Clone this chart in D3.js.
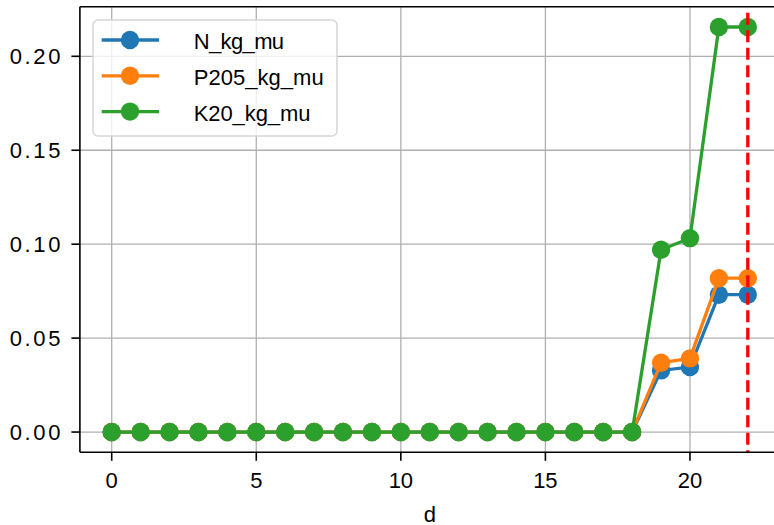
<!DOCTYPE html>
<html><head><meta charset="utf-8">
<script src="https://cdn.jsdelivr.net/npm/d3@7"></script>
<style>body{margin:0;background:#fff}svg{display:block}</style>
</head><body>
<svg id="c" width="774" height="525"></svg>
<script>
const days = d3.range(0, 23);
const seriesNames = ["N_kg_mu", "P205_kg_mu", "K20_kg_mu"];
const N_kg_mu =    [0,0,0,0,0,0,0,0,0,0,0,0,0,0,0,0,0,0,0,0.0328,0.0346,0.0731,0.0731];
const P205_kg_mu = [0,0,0,0,0,0,0,0,0,0,0,0,0,0,0,0,0,0,0,0.0369,0.0392,0.0819,0.0819];
const K20_kg_mu =  [0,0,0,0,0,0,0,0,0,0,0,0,0,0,0,0,0,0,0,0.0970,0.1032,0.2156,0.2156];
const xTicks = [0,5,10,15,20];
const yTicks = [0,0.05,0.10,0.15,0.20];
const xLabel = "d";
const vlineX = 22;
const colors = ["#1f77b4","#ff7f0e","#2ca02c"];
const data = [N_kg_mu, P205_kg_mu, K20_kg_mu];

const font = "'Liberation Sans', Arial, sans-serif";
const FS = 22, CW = 13.2;
// text stretched to half-width cell metrics (like a CJK font's Latin glyphs)
function mono(parent, str, x0, y, anchor) {
  const w = str.length * CW;
  const start = anchor === "end" ? x0 - w : anchor === "middle" ? x0 - w/2 : x0;
  const t = parent.append("text").attr("x", start + (str.length > 1 ? 1 : 0)).attr("y", y)
    .attr("font-family", font).attr("font-size", FS).attr("fill", "#000").text(str);
  if (str.length > 1) t.attr("textLength", w - 2).attr("lengthAdjust", "spacing");
  else t.attr("x", x0).attr("text-anchor", "middle");
  return t;
}

const svg = d3.select("#c");
const L = 79.9, T = 6.7, B = 452.3;
const x = d3.scaleLinear().domain([-1.1, 23.1]).range([79.9, 779.6]);
const y = d3.scaleLinear().domain([-0.01078, 0.2264]).range([B, T]);
const R = x.range()[1];

const g = svg.append("g");
// grid
g.selectAll(".gx").data(xTicks).enter().append("line")
  .attr("x1", d=>x(d)).attr("x2", d=>x(d)).attr("y1", T).attr("y2", B)
  .attr("stroke", "#b0b0b0").attr("stroke-width", 1.3);
g.selectAll(".gy").data(yTicks).enter().append("line")
  .attr("x1", L).attr("x2", R).attr("y1", d=>y(d)).attr("y2", d=>y(d))
  .attr("stroke", "#b0b0b0").attr("stroke-width", 1.3);

// series
const line = d3.line().x((d,i)=>x(days[i])).y(d=>y(d));
data.forEach((s, k) => {
  g.append("path").datum(s).attr("d", line).attr("fill","none")
    .attr("stroke", colors[k]).attr("stroke-width", 3.3);
  g.selectAll(".m"+k).data(s).enter().append("circle")
    .attr("cx", (d,i)=>x(days[i])).attr("cy", d=>y(d)).attr("r", 9.2)
    .attr("fill", colors[k]);
});

// red dashed vline
g.append("line").attr("x1", x(vlineX)).attr("x2", x(vlineX)).attr("y1", T + 6).attr("y2", B)
  .attr("stroke", "red").attr("stroke-width", 3.3).attr("stroke-dasharray", "12,5.5");

// spines
g.append("line").attr("x1", L).attr("x2", L).attr("y1", T).attr("y2", B).attr("stroke","#000").attr("stroke-width",1.6);
g.append("line").attr("x1", L).attr("x2", R).attr("y1", B).attr("y2", B).attr("stroke","#000").attr("stroke-width",1.6);
g.append("line").attr("x1", L).attr("x2", R).attr("y1", T).attr("y2", T).attr("stroke","#000").attr("stroke-width",1.6);

// ticks
g.selectAll(".tx").data(xTicks).enter().append("line")
  .attr("x1", d=>x(d)).attr("x2", d=>x(d)).attr("y1", B).attr("y2", B+8.5)
  .attr("stroke","#000").attr("stroke-width",1.6);
xTicks.forEach(d => mono(g, String(d), x(d), 488, "middle"));
g.selectAll(".ty").data(yTicks).enter().append("line")
  .attr("x1", L-8.5).attr("x2", L).attr("y1", d=>y(d)).attr("y2", d=>y(d))
  .attr("stroke","#000").attr("stroke-width",1.6);
yTicks.forEach(d => mono(g, d3.format(".2f")(d), 61.5, y(d) + 8, "end"));
mono(g, xLabel, (x.range()[0] + x.range()[1]) / 2, 521.5, "middle");

// legend
const lg = svg.append("g");
lg.append("rect").attr("x", 93).attr("y", 20).attr("width", 244).attr("height", 116)
  .attr("rx", 5).attr("fill", "rgba(255,255,255,0.8)").attr("stroke", "#d6d6d6").attr("stroke-width", 1.5);
seriesNames.forEach((n, k) => {
  const cy = 40 + k*35.8;
  lg.append("line").attr("x1", 101.7).attr("x2", 159).attr("y1", cy).attr("y2", cy)
    .attr("stroke", colors[k]).attr("stroke-width", 3.3);
  lg.append("circle").attr("cx", 130).attr("cy", cy).attr("r", 9.2).attr("fill", colors[k]);
  mono(lg, n, 192.7, cy + 9, "start");
});
</script>
</body></html>
